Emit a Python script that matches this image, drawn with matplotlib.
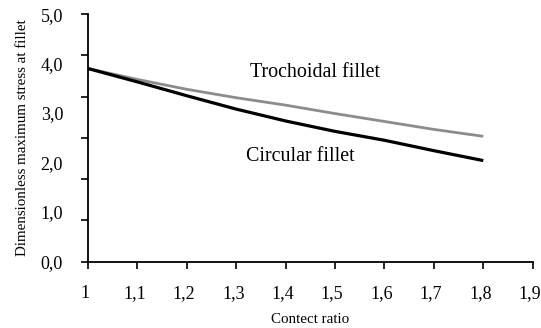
import matplotlib.pyplot as plt
import matplotlib.transforms as mtransforms
import numpy as np
from matplotlib.ticker import FixedLocator, FuncFormatter, NullFormatter

contact_ratio = [1.0, 1.1, 1.2, 1.3, 1.4, 1.5, 1.6, 1.7, 1.8]
trochoidal = [3.90, 3.68, 3.48, 3.31, 3.16, 2.99, 2.83, 2.67, 2.53]
circular = [3.90, 3.63, 3.35, 3.08, 2.84, 2.63, 2.45, 2.24, 2.04]

x_ticks = [1.0, 1.1, 1.2, 1.3, 1.4, 1.5, 1.6, 1.7, 1.8, 1.9]
x_labels = ["1", "1,1", "1,2", "1,3", "1,4", "1,5", "1,6", "1,7", "1,8", "1,9"]
y_label_vals = [0, 1, 2, 3, 4, 5]
y_labels = ["0,0", "1,0", "2,0", "3,0", "4,0", "5,0"]


def main() -> None:
    plt.rcParams["font.family"] = ["Liberation Serif", "DejaVu Serif"]
    fig = plt.figure(figsize=(5.41, 3.28), dpi=100)
    ax = fig.add_axes([0.1627, 0.2027, 0.8219, 0.7543])

    ax.plot(contact_ratio, trochoidal, color="#8c8c8c", lw=2.0, solid_capstyle="butt")
    ax.plot(contact_ratio, circular, color="black", lw=2.3, solid_capstyle="butt")

    ax.text(1.46, 3.81, "Trochoidal fillet", fontsize=14.4, ha="center", va="center")
    ax.text(1.43, 2.12, "Circular fillet", fontsize=14.4, ha="center", va="center")

    ax.set_xlim(1.0, 1.9)
    ax.set_ylim(0, 5)
    ax.set_xticks(x_ticks)
    ax.set_xticklabels(x_labels, fontsize=13)

    # tick marks split the range in six, labels sit on whole numbers
    lookup = dict(zip(y_label_vals, y_labels))
    ax.yaxis.remove_overlapping_locs = False
    ax.yaxis.set_major_locator(FixedLocator(np.linspace(0, 5, 7)))
    ax.yaxis.set_major_formatter(NullFormatter())
    ax.yaxis.set_minor_locator(FixedLocator(y_label_vals))
    ax.yaxis.set_minor_formatter(FuncFormatter(lambda v, pos: lookup.get(int(round(v)), "")))
    ax.tick_params(axis="y", which="minor", length=0, labelsize=13, pad=18)
    ax.tick_params(axis="y", which="major", direction="out", length=5, width=1.2)
    ax.tick_params(axis="x", direction="out", length=5, width=1.2, pad=12)

    # labels sit a touch left of their ticks, as in the source
    shift = mtransforms.ScaledTranslation(-3 / 100, 0, fig.dpi_scale_trans)
    for lab in ax.get_xticklabels():
        lab.set_transform(lab.get_transform() + shift)

    for side in ("top", "right"):
        ax.spines[side].set_visible(False)
    for side in ("left", "bottom"):
        ax.spines[side].set_linewidth(1.3)

    ax.set_xlabel("Contect ratio", fontsize=10.8, labelpad=8)
    ax.set_ylabel("Dimensionless maximum stress at fillet", fontsize=10.8, labelpad=8)

    fig.savefig("out.png", dpi=100)


if __name__ == "__main__":
    main()
